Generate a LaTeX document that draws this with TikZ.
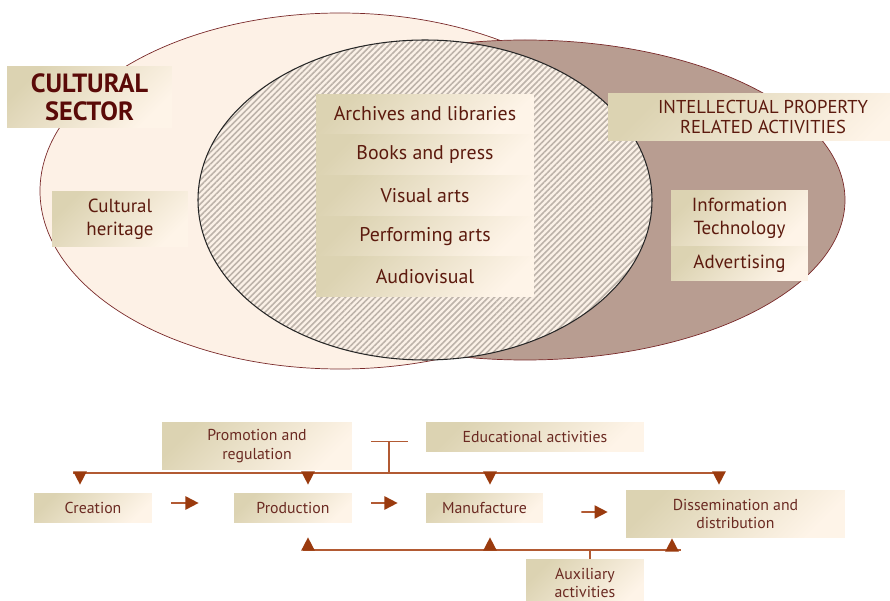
\documentclass[tikz,border=0pt]{standalone}
\usepackage{fontspec}
\setmainfont{PT Sans}
\usetikzlibrary{arrows.meta,patterns.meta,positioning,calc}

\definecolor{lightset}{HTML}{FDF1E6}
\definecolor{brownset}{HTML}{B89D91}
\definecolor{rimc}{HTML}{7A2A2A}
\definecolor{hatchbg}{HTML}{FBF1E7}
\definecolor{hatchline}{HTML}{BDB3AA}
\definecolor{boxtop}{HTML}{DCD3B2}
\definecolor{boxbot}{HTML}{FEF4E8}
\definecolor{boxtext}{HTML}{5C1A0E}
\definecolor{sectortext}{HTML}{5A0A08}
\definecolor{flowtext}{HTML}{6B2A22}
\definecolor{linec}{HTML}{B25A33}
\definecolor{tipc}{HTML}{9A3A0E}

\begin{document}
\begin{tikzpicture}[x=0.02cm,y=-0.02cm,
    box/.style={top color=boxtop,bottom color=boxbot,shading angle=45,
      inner sep=0pt,align=center,text=boxtext,font=\fontsize{10.8}{13}\selectfont},
    stackbox/.style={box,minimum width=4.36cm,minimum height=0.8cm,
      font=\fontsize{11.3}{13}\selectfont},
    flowbox/.style={box,minimum height=0.6cm,text=flowtext,
      font=\fontsize{9}{10.5}\selectfont},
    link/.style={draw=linec,line width=0.9pt},
    drop/.style={link,-{Triangle[length=7.5pt,width=7.5pt,color=tipc]}},
    flow/.style={link,line width=1pt,-{Triangle[length=7.5pt,width=7.5pt,color=tipc]}}]

  \useasboundingbox (0,0) rectangle (890,601);

  % the three sets
  \draw[rimc,fill=lightset] (340,191) ellipse [x radius=300,y radius=178];
  \draw[rimc,fill=brownset] (525,200) ellipse [x radius=320,y radius=160];
  \fill[hatchbg] (425,200) ellipse [x radius=227,y radius=160];
  \fill[pattern={Lines[angle=45,distance=2.4pt,line width=0.9pt]},pattern color=hatchline]
    (425,200) ellipse [x radius=227,y radius=160];
  \draw[black!85,line width=0.6pt] (425,200) ellipse [x radius=227,y radius=160];

  % labels of the sets
  \node[box,minimum width=3.3cm,minimum height=1.24cm,text=sectortext,
    font=\bfseries\fontsize{15}{16}\selectfont] (sector) at (89.5,97) {CULTURAL\\SECTOR};
  \node[box,minimum width=2.72cm,minimum height=1.12cm] (heritage) at (120,219) {Cultural\\heritage};
  \node[box,minimum width=6.2cm,minimum height=0.96cm,
    font=\fontsize{10.6}{11.5}\selectfont] (ipr) at (763,117) {INTELLECTUAL PROPERTY\\RELATED ACTIVITIES};
  \node[box,minimum width=2.74cm,minimum height=1.12cm] (infotech) at (739.5,218) {Information\\Technology};
  \node[box,minimum width=2.74cm,minimum height=0.68cm,below=0pt of infotech] (advert) {Advertising};

  % core cultural activities
  \node[stackbox] (archives) at (425,114) {Archives and libraries};
  \node[stackbox,below=0pt of archives] (books) {Books and press};
  \node[stackbox,below=0pt of books] (visual) {Visual arts};
  \node[stackbox,below=0pt of visual] (performing) {Performing arts};
  \node[stackbox,below=0pt of performing] (audiovisual) {Audiovisual};

  % chain of functions
  \node[flowbox,minimum width=3.8cm,minimum height=0.96cm] (promo) at (257,446) {Promotion and\\regulation};
  \node[flowbox,minimum width=4.36cm] (edu) at (535,437) {Educational activities};
  \node[flowbox,minimum width=2.36cm] (creation) at (93,508) {Creation};
  \node[flowbox,minimum width=2.36cm] (production) at (293,508) {Production};
  \node[flowbox,minimum width=2.34cm] (manufacture) at (484.5,508) {Manufacture};
  \node[flowbox,minimum width=4.38cm,minimum height=0.96cm] (dissem) at (735.5,514) {Dissemination and\\distribution};
  \node[flowbox,minimum width=2.36cm,minimum height=0.96cm] (aux) at (585,583) {Auxiliary\\activities};

  \coordinate (tee) at ($(promo.east)!0.5!(edu.west)$);
  \coordinate (topL) at (73,473);
  \coordinate (topR) at (724,473);
  \coordinate (botL) at (303,550);
  \coordinate (botR) at (681,550);

  % upper bus
  \draw[link] (topL) -- (topR);
  \draw[link] ([xshift=-0.36cm]tee) -- ([xshift=0.38cm]tee);
  \draw[link] (tee) -- (tee |- topL);
  \draw[drop] ([xshift=-0.26cm]creation.north |- topL) -- ([xshift=-0.26cm,yshift=0.16cm]creation.north);
  \draw[drop] ([xshift=0.3cm]production.north |- topL) -- ([xshift=0.3cm,yshift=0.16cm]production.north);
  \draw[drop] ([xshift=0.11cm]manufacture.north |- topL) -- ([xshift=0.11cm,yshift=0.16cm]manufacture.north);
  \draw[drop] ([xshift=-0.33cm]dissem.north |- topL) -- ([xshift=-0.33cm,yshift=0.1cm]dissem.north);

  % lower bus
  \draw[link] (botL) -- (botR);
  \draw[link] ([xshift=0.1cm]aux.north) -- ([xshift=0.1cm]aux.north |- botL);
  \draw[drop] ([xshift=0.3cm]production.south |- botL) -- ([xshift=0.3cm,yshift=-0.28cm]production.south);
  \draw[drop] ([xshift=0.11cm]manufacture.south |- botL) -- ([xshift=0.11cm,yshift=-0.28cm]manufacture.south);
  \draw[drop] ([xshift=-1.27cm]dissem.south |- botL) -- ([xshift=-1.27cm]dissem.south);

  % steps
  \draw[flow] ([xshift=0.38cm,yshift=0.1cm]creation.east) -- ([xshift=-0.7cm,yshift=0.1cm]production.west);
  \draw[flow] ([xshift=0.38cm,yshift=0.1cm]production.east) -- ([xshift=-0.56cm,yshift=0.1cm]manufacture.west);
  \draw[flow] ([xshift=0.76cm,yshift=-0.08cm]manufacture.east) -- ([xshift=-0.36cm,yshift=0.04cm]dissem.west);
\end{tikzpicture}
\end{document}
